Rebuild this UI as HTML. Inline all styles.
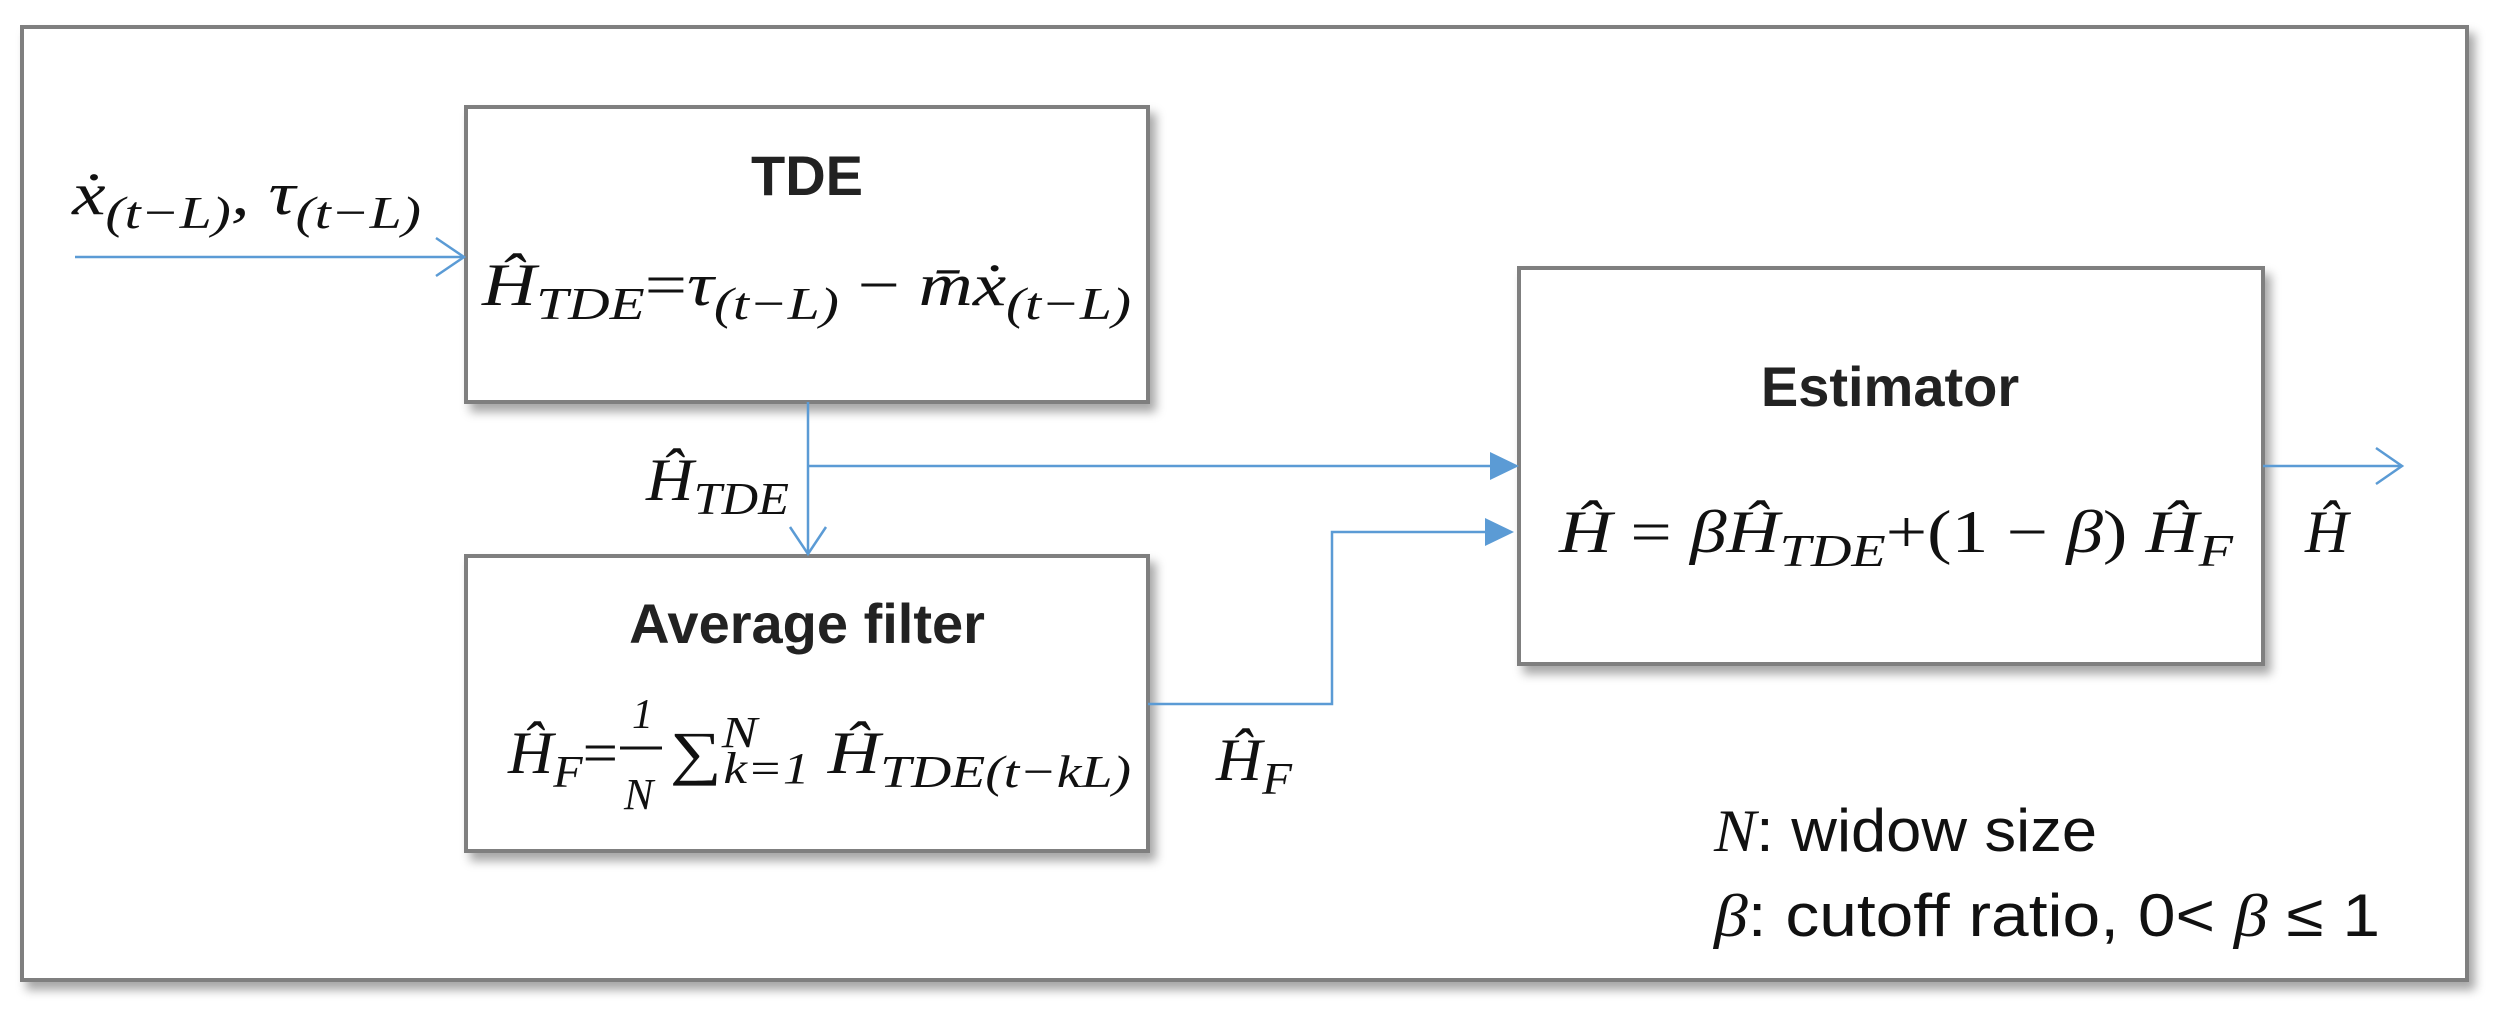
<!DOCTYPE html>
<html><head><meta charset="utf-8"><style>
html,body{margin:0;padding:0;background:#fff;}
svg{display:block;}
.m{font-family:"Liberation Serif",serif;font-style:italic;}
.t{font-family:"Liberation Sans",sans-serif;font-weight:bold;fill:#222;}
.s{font-family:"Liberation Sans",sans-serif;fill:#111;}
</style></head><body>
<svg width="2494" height="1019" viewBox="0 0 2494 1019" xmlns="http://www.w3.org/2000/svg">
<defs>
<filter id="sh" x="-5%" y="-5%" width="115%" height="120%"><feDropShadow dx="6" dy="8" stdDeviation="5" flood-color="#000" flood-opacity="0.35"/></filter>
</defs>
<rect x="22" y="27" width="2445" height="953" fill="#fff" stroke="#7f7f7f" stroke-width="4" filter="url(#sh)"/>
<g fill="#fff" stroke="#7f7f7f" stroke-width="4" filter="url(#sh)">
<rect x="466" y="107" width="682" height="295"/>
<rect x="466" y="556" width="682" height="295"/>
<rect x="1519" y="268" width="744" height="396"/>
</g>
<g stroke="#5b9bd5" stroke-width="2.5" fill="none">
<line x1="75" y1="257" x2="464" y2="257"/>
<polyline points="436,238 464,257 436,276"/>
<line x1="808" y1="402" x2="808" y2="554"/>
<polyline points="790,527 808,554 826,527"/>
<line x1="808" y1="466" x2="1495" y2="466"/>
<polyline points="1148,704 1332,704 1332,532 1495,532"/>
<line x1="2263" y1="466" x2="2402" y2="466"/>
<polyline points="2376,448 2402,466 2376,484"/>
</g>
<g fill="#5b9bd5">
<polygon points="1490,452 1519,466 1490,480"/>
<polygon points="1485,518 1514,532 1485,546"/>
</g>
<g font-size="60" fill="#111">
<text class="m" x="72" y="214" textLength="349" lengthAdjust="spacingAndGlyphs">ẋ<tspan font-size="46" dy="14">(t−L)</tspan><tspan dy="-14">, τ</tspan><tspan font-size="46" dy="14">(t−L)</tspan></text>
<text class="t" x="807" y="195" font-size="56" text-anchor="middle">TDE</text>
<text class="m" x="482" y="305" textLength="649" lengthAdjust="spacingAndGlyphs">Ĥ<tspan font-size="46" dy="14">TDE</tspan><tspan dy="-14" font-style="normal">=</tspan>τ<tspan font-size="46" dy="14">(t−L)</tspan><tspan dy="-14" font-style="normal"> − </tspan>m̄ẋ<tspan font-size="46" dy="14">(t−L)</tspan></text>
<text class="m" x="646" y="500" textLength="143" lengthAdjust="spacingAndGlyphs">Ĥ<tspan font-size="46" dy="14">TDE</tspan></text>
<text class="t" x="807" y="643" font-size="56" text-anchor="middle">Average filter</text>
<text class="m" x="508" y="773" textLength="110" lengthAdjust="spacingAndGlyphs">Ĥ<tspan font-size="46" dy="14">F</tspan><tspan dy="-14" font-style="normal">=</tspan></text>
<text class="m" x="632" y="728" font-size="42" font-style="normal">1</text>
<line x1="620" y1="748" x2="662" y2="748" stroke="#111" stroke-width="3"/>
<text class="m" x="624" y="809" font-size="44">N</text>
<text class="m" x="670" y="773" textLength="461" lengthAdjust="spacingAndGlyphs"><tspan font-style="normal">∑</tspan><tspan font-size="44" dy="-26">N</tspan><tspan font-size="44" dx="-28" dy="36">k=1</tspan><tspan dy="-10"> Ĥ</tspan><tspan font-size="46" dy="14">TDE(t−kL)</tspan></text>
<text class="m" x="1216" y="780" textLength="76" lengthAdjust="spacingAndGlyphs">Ĥ<tspan font-size="46" dy="14">F</tspan></text>
<text class="t" x="1890" y="406" font-size="56" text-anchor="middle">Estimator</text>
<text class="m" x="1559" y="552" textLength="674" lengthAdjust="spacingAndGlyphs">Ĥ<tspan font-style="normal"> =  </tspan>βĤ<tspan font-size="46" dy="14">TDE</tspan><tspan dy="-14" font-style="normal">+(1 − </tspan>β<tspan font-style="normal">) </tspan>Ĥ<tspan font-size="46" dy="14">F</tspan></text>
<text class="m" x="2305" y="552">Ĥ</text>
<text class="s" x="1714" y="851" font-size="60" textLength="383" lengthAdjust="spacingAndGlyphs"><tspan class="m">N</tspan>: widow size</text>
<text class="s" x="1714" y="936" font-size="60" textLength="666" lengthAdjust="spacingAndGlyphs"><tspan class="m">β</tspan>: cutoff ratio, 0&lt; <tspan class="m">β</tspan> ≤ 1</text>
</g>
</svg>
</body></html>
